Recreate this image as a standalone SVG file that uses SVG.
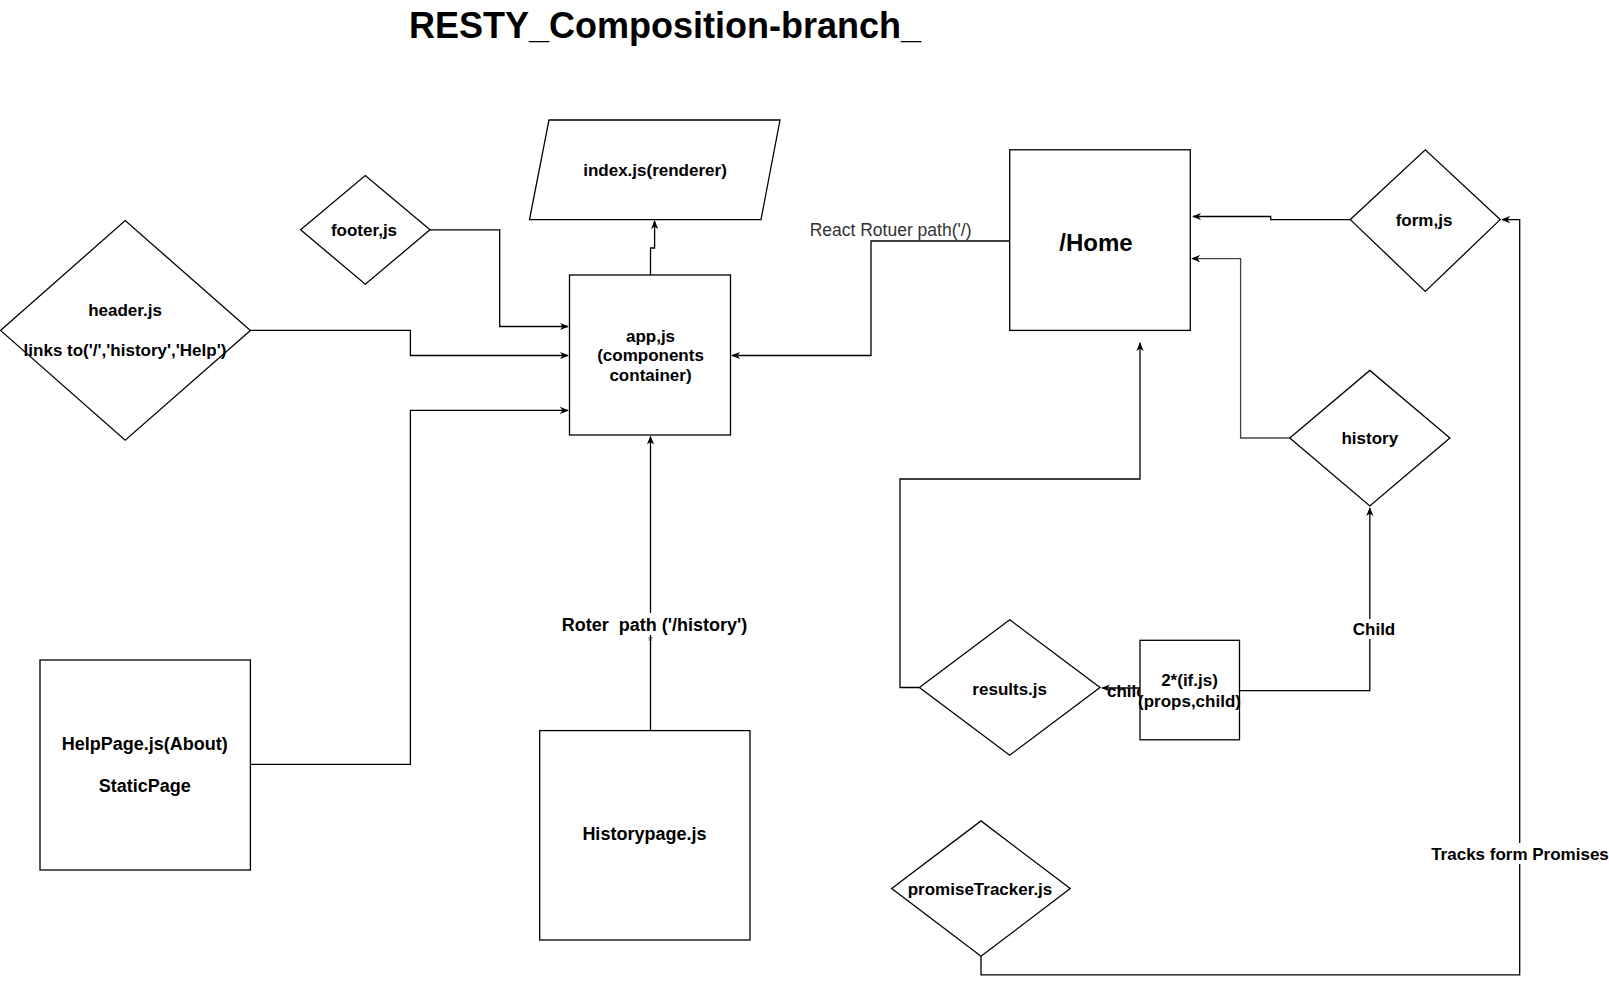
<svg xmlns="http://www.w3.org/2000/svg" width="1609" height="985" viewBox="0 0 1609 985">
<defs>
<style>
.shape{fill:#fff;stroke:#000;stroke-width:1.3}
.edge{fill:none;stroke:#000;stroke-width:1.3}
.gray{stroke:#444}
.t{font-family:"Liberation Sans",Arial,sans-serif;font-size:17px;font-weight:bold;fill:#000;text-anchor:middle}
.lbl{font-family:"Liberation Sans",Arial,sans-serif;font-size:17px;font-weight:bold;fill:#000;text-anchor:middle}
.big{font-size:18px}
.bg{fill:#fff;stroke:none}
</style>
<marker id="arr" viewBox="0 0 10 10" refX="9" refY="5" markerWidth="9" markerHeight="9" orient="auto" markerUnits="userSpaceOnUse">
<path d="M0,1 L10,5 L0,9 L3,5 z" fill="#000"/>
</marker>
</defs>
<rect width="1609" height="985" fill="#fff"/>
<text x="665" y="38" font-family="'Liberation Sans',Arial,sans-serif" font-size="36" font-weight="bold" text-anchor="middle">RESTY_Composition-branch_</text>

<g id="connectors">
<path class="edge" d="M650.5,275 V248 H654.6 V221" marker-end="url(#arr)"/>
<path class="edge" d="M430,229.8 H499.7 V326.5 H568" marker-end="url(#arr)"/>
<path class="edge" d="M250.4,330.4 H410.4 V355.5 H568" marker-end="url(#arr)"/>
<path class="edge" d="M250.4,764.4 H410.4 V410.4 H568" marker-end="url(#arr)"/>
<path class="edge" d="M650.5,730.6 V436.5" marker-end="url(#arr)"/>
<path class="edge" d="M1009.7,241 H871 V355.5 H732" marker-end="url(#arr)"/>
<text x="890.6" y="236" font-family="'Liberation Sans',Arial,sans-serif" font-size="17.5" fill="#333" text-anchor="middle">React Rotuer path('/)</text>
<path class="edge" d="M1350.3,219.6 H1270.7 V216.5 H1193" marker-end="url(#arr)"/>
<path class="edge gray" d="M1289.8,438 H1240.6 V258.6 H1192" marker-end="url(#arr)"/>
<path class="edge" d="M919.4,687.5 H900 V479 H1140 V343" marker-end="url(#arr)"/>
<path class="edge" d="M1140,688 H1102" marker-end="url(#arr)"/>
<text x="1107" y="697" font-family="'Liberation Sans',Arial,sans-serif" font-size="17" font-weight="bold">child</text>
<path class="edge" d="M1239.5,690.6 H1369.8 V508" marker-end="url(#arr)"/>
<rect class="bg" x="1350" y="619" width="48" height="20"/>
<text class="lbl" x="1374" y="635">Child</text>
<path class="edge" d="M981,956.3 V974.8 H1519.7 V219.6 H1502" marker-end="url(#arr)"/>
<rect class="bg" x="1432" y="843" width="176" height="21"/>
<text class="lbl" x="1520" y="860">Tracks form Promises</text>
<rect class="bg" x="559" y="613" width="191" height="22"/>
<text class="lbl big" x="654.6" y="630.5" xml:space="preserve">Roter  path ('/history')</text>
<text x="650.5" y="641" font-family="'Liberation Sans',Arial,sans-serif" font-size="7" fill="#555" text-anchor="middle">rr</text>
</g>

<g id="index">
<polygon class="shape" points="549,120 780,120 761,219.6 529.5,219.6"/>
<text class="t" x="655" y="176">index.js(renderer)</text>
</g>
<g id="footer">
<polygon class="shape" points="300.6,229.8 365.3,175.5 430,229.8 365.3,284.2"/>
<text class="t" x="364" y="236">footer,js</text>
</g>
<g id="header">
<polygon class="shape" points="0.5,330.4 125.2,220.6 250.4,330.4 125.2,440.2"/>
<text class="t" x="125" y="316">header.js</text>
<text class="t" x="125" y="356">links to('/','history','Help')</text>
</g>
<g id="app">
<rect class="shape" x="569.5" y="275" width="161" height="160"/>
<text class="t" x="650.5" y="341.5">app,js</text>
<text class="t" x="650.5" y="361">(components</text>
<text class="t" x="650.5" y="380.5">container)</text>
</g>
<g id="helppage">
<rect class="shape" x="40" y="660" width="210.4" height="210"/>
<text class="t big" x="144.7" y="750">HelpPage.js(About)</text>
<text class="t big" x="144.7" y="792">StaticPage</text>
</g>
<g id="historypage">
<rect class="shape" x="539.7" y="730.6" width="210.3" height="209.4"/>
<text class="t big" x="644.4" y="840">Historypage.js</text>
</g>
<g id="home">
<rect class="shape" x="1009.7" y="149.8" width="180.6" height="180.6"/>
<text class="t" x="1096" y="250.5" style="font-size:24px">/Home</text>
</g>
<g id="form">
<polygon class="shape" points="1350.3,219.6 1425.3,149.8 1500.2,219.6 1425.3,291.4"/>
<text class="t" x="1424" y="225.5">form,js</text>
</g>
<g id="history">
<polygon class="shape" points="1289.8,438 1369.8,370.4 1449.9,438 1369.8,505.9"/>
<text class="t" x="1369.8" y="444">history</text>
</g>
<g id="results">
<polygon class="shape" points="919.4,687.5 1009.7,619.8 1100,687.5 1009.7,755.2"/>
<text class="t" x="1009.7" y="694.5">results.js</text>
</g>
<g id="ifjs">
<rect class="shape" x="1140" y="640.3" width="99.5" height="99.5"/>
<text class="t" x="1189.5" y="686">2*(if.js)</text>
<text class="t" x="1189.5" y="706.5">(props,child)</text>
</g>
<g id="promiseTracker">
<polygon class="shape" points="891.7,888.6 981,820.9 1070.2,888.6 981,956.3"/>
<text class="t" x="980" y="894.5">promiseTracker.js</text>
</g>
</svg>
